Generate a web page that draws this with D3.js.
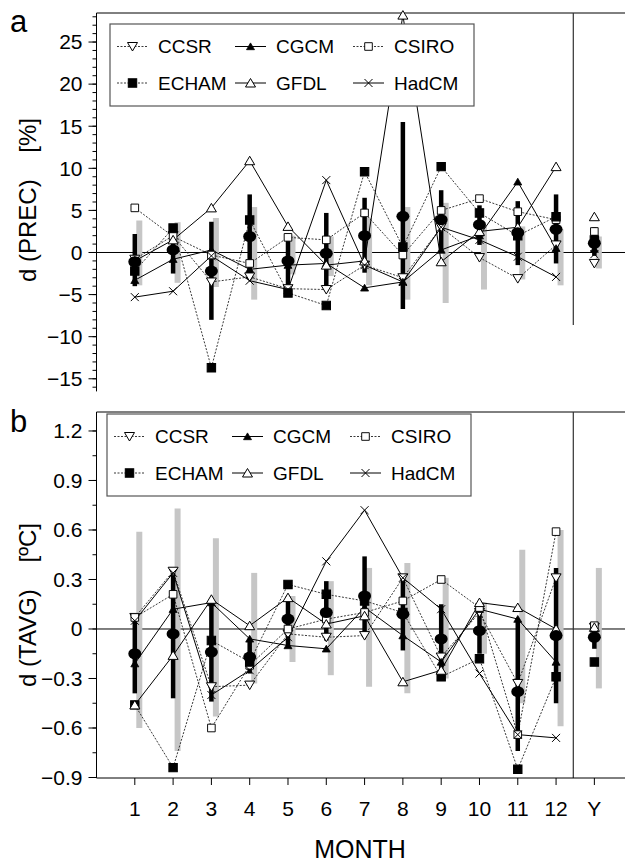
<!DOCTYPE html>
<html>
<head>
<meta charset="utf-8">
<script src="https://d3js.org/d3.v7.min.js"></script>
<style>
  body { margin: 0; background: #fff; }
  svg { display: block; font-family: "Liberation Sans", Arial, sans-serif; }
</style>
</head>
<body>
<div id="chart"></div>
<script>
// month positions (13 = annual "Y")
const months = [1, 2, 3, 4, 5, 6, 7, 8, 9, 10, 11, 12, 13];
const monthLabels = ["1", "2", "3", "4", "5", "6", "7", "8", "9", "10", "11", "12", "Y"];
const modelNames = ["CCSR", "CGCM", "CSIRO", "ECHAM", "GFDL", "HadCM"];

// panel a: precipitation change [%]
const precCCSR  = [-0.8, 2.0, -3.5, -2.9, -4.3, -4.4, -1.5, -3.0, 3.0, -0.6, -3.1, 0.9, -1.3];
const precCGCM  = [-3.3, -0.8, 0.3, -2.0, -1.5, -1.3, -4.2, -3.5, 0.3, 2.0, 8.4, 0.5, 0.4];
const precCSIRO = [5.3, 1.9, -0.3, -1.3, 1.8, 1.5, 4.7, -0.3, 5.0, 6.4, 4.85, 3.9, 2.5];
const precECHAM = [-2.2, 2.9, -13.7, 3.86, -4.8, -6.3, 9.6, 0.65, 10.2, 4.7, 2.0, 4.25, 1.5];
const precGFDL  = [-1.0, 1.5, 5.3, 10.9, 3.1, -1.5, -1.0, 28.2, -1.1, 2.5, 3.0, 10.2, 4.25];
const precHadCM = [-5.3, -4.6, -0.4, -3.35, -4.4, 8.6, -1.5, -3.5, 3.0, 1.5, -0.5, -2.9, -0.2];
const precMean  = [-1.1, 0.3, -2.2, 1.9, -1.0, -0.1, 2.0, 4.3, 3.9, 3.3, 2.35, 2.75, 1.1];
const precModelLo = [-4.0, -2.5, -8.0, -3.0, -4.5, -4.6, -2.4, -6.7, 0.3, 0.9, -1.5, -1.3, -0.4];
const precModelHi = [2.2, 3.1, 3.65, 6.9, 1.9, 4.7, 6.5, 15.5, 7.4, 5.6, 6.1, 6.9, 3.0];
const precNatLo = [-3.9, -3.6, -4.1, -5.6, -2.6, -2.8, -3.9, -5.6, -6.0, -4.4, -3.2, -3.9, -1.9];
const precNatHi = [3.8, 3.6, 4.1, 5.4, 2.0, 1.9, 4.1, 5.4, 5.9, 3.1, 3.1, 2.75, 1.9];

// panel b: temperature change [ºC]
const tavgCCSR  = [0.07, 0.35, -0.35, -0.34, -0.03, -0.05, -0.04, 0.31, -0.17, 0.1, -0.33, 0.31, 0.01];
const tavgCGCM  = [-0.21, 0.12, 0.16, -0.06, -0.1, -0.12, 0.13, -0.04, -0.2, 0.12, 0.06, -0.2, 0.0];
const tavgCSIRO = [0.07, 0.21, -0.6, -0.22, 0.0, 0.06, 0.1, 0.17, 0.3, 0.13, -0.64, 0.59, 0.02];
const tavgECHAM = [-0.46, -0.84, -0.07, -0.2, 0.27, 0.21, 0.17, 0.1, -0.29, -0.18, -0.85, -0.29, -0.2];
const tavgGFDL  = [-0.46, -0.16, 0.18, 0.02, 0.19, 0.03, 0.08, -0.32, -0.25, 0.16, 0.13, 0.0, 0.01];
const tavgHadCM = [0.05, 0.34, -0.4, -0.25, -0.05, 0.41, 0.72, 0.31, 0.12, -0.27, -0.64, -0.66, -0.03];
const tavgMean  = [-0.15, -0.03, -0.14, -0.17, 0.06, 0.1, 0.2, 0.09, -0.06, -0.01, -0.38, -0.04, -0.05];
const tavgModelLo = [-0.39, -0.42, -0.44, -0.27, -0.1, -0.07, -0.05, -0.13, -0.28, -0.15, -0.74, -0.45, -0.12];
const tavgModelHi = [0.07, 0.34, 0.17, -0.06, 0.2, 0.29, 0.44, 0.31, 0.15, 0.17, 0.06, 0.37, 0.0];
const tavgNatLo = [-0.6, -0.74, -0.53, -0.33, -0.2, -0.28, -0.35, -0.39, -0.3, -0.15, -0.45, -0.59, -0.36];
const tavgNatHi = [0.59, 0.73, 0.55, 0.34, 0.2, 0.29, 0.37, 0.4, 0.31, 0.16, 0.48, 0.6, 0.37];

const W = 625, H = 862;
const left = 96.5, right = 625;

const svg = d3.select("#chart").append("svg")
    .attr("width", W)
    .attr("height", H);

const x = d3.scaleLinear().domain([0, 13.8]).range([left, right]);

// marker shapes
function markerPath(type) {
    if (type === "down") return "M0,4.5L5,-4L-5,-4Z";
    if (type === "up" || type === "upFill") return "M0,-4.5L5,4L-5,4Z";
    if (type === "square" || type === "squareFill") return "M-4,-4H4V4H-4Z";
    if (type === "cross") return "M-4,-4L4,4M-4,4L4,-4";
}
const styles = {
    CCSR:  { marker: "down", dash: "2,1.5", fill: "#fff" },
    CGCM:  { marker: "upFill", dash: null, fill: "#000" },
    CSIRO: { marker: "square", dash: "2,1.5", fill: "#fff" },
    ECHAM: { marker: "squareFill", dash: "2,1.5", fill: "#000" },
    GFDL:  { marker: "up", dash: null, fill: "#fff" },
    HadCM: { marker: "cross", dash: null, fill: "none" }
};

function drawMarker(g, name, cx, cy) {
    const s = styles[name];
    let size = 1;
    if (s.marker === "upFill") size = 0.8;
    if (s.marker === "squareFill") size = 1.05;
    if (s.marker === "square") size = 0.95;
    g.append("path")
        .attr("d", markerPath(s.marker))
        .attr("transform", "translate(" + cx + "," + cy + ") scale(" + size + ")")
        .attr("fill", s.fill)
        .attr("stroke", "#000")
        .attr("stroke-width", 1);
}

function drawPanel(cfg) {
    const y = d3.scaleLinear().domain(cfg.domain).range(cfg.range);
    const g = svg.append("g");
    const top = cfg.range[1];

    // frame: top line and left axis
    g.append("line").attr("x1", left).attr("x2", right).attr("y1", top).attr("y2", top)
        .attr("stroke", "#000").attr("stroke-width", 1);
    g.append("line").attr("x1", left).attr("x2", left).attr("y1", top).attr("y2", cfg.range[0])
        .attr("stroke", "#000").attr("stroke-width", 1);

    // minor + major ticks
    g.selectAll(".minor").data(cfg.minorTicks).enter().append("line")
        .attr("x1", left - 4).attr("x2", left)
        .attr("y1", d => y(d)).attr("y2", d => y(d))
        .attr("stroke", "#000").attr("stroke-width", 1);
    g.selectAll(".major").data(cfg.majorTicks).enter().append("line")
        .attr("x1", left - 8).attr("x2", left)
        .attr("y1", d => y(d)).attr("y2", d => y(d))
        .attr("stroke", "#000").attr("stroke-width", 1);
    g.selectAll(".tlabel").data(cfg.majorTicks).enter().append("text")
        .attr("x", left - 14)
        .attr("y", d => y(d))
        .attr("dy", "0.35em")
        .attr("text-anchor", "end")
        .style("font-size", "21px")
        .text(cfg.tickFormat);

    // zero line and year separator
    g.append("line").attr("x1", left).attr("x2", right).attr("y1", y(0)).attr("y2", y(0))
        .attr("stroke", "#000").attr("stroke-width", 1);
    g.append("line").attr("x1", x(12.45)).attr("x2", x(12.45))
        .attr("y1", top).attr("y2", y(cfg.sepEnd))
        .attr("stroke", "#333").attr("stroke-width", 1.2);

    // grey bars (natural variability)
    g.selectAll(".nat").data(months).enter().append("line")
        .attr("x1", d => x(d) + 4.5).attr("x2", d => x(d) + 4.5)
        .attr("y1", (d, i) => y(cfg.natLo[i])).attr("y2", (d, i) => y(cfg.natHi[i]))
        .attr("stroke", "#c6c6c6").attr("stroke-width", 6);

    // model lines (months 1-12 only)
    const line = d3.line().x(d => x(d[0])).y(d => y(d[1]));
    modelNames.forEach(name => {
        const vals = cfg.series[name];
        const pts = months.slice(0, 12).map((m, i) => [m, vals[i]]);
        g.append("path")
            .attr("d", line(pts))
            .attr("fill", "none")
            .attr("stroke", styles[name].dash ? "#222" : "#000")
            .attr("stroke-width", styles[name].dash ? 0.9 : 1)
            .attr("stroke-dasharray", styles[name].dash);
    });

    // black bars (model spread)
    g.selectAll(".spread").data(months).enter().append("line")
        .attr("x1", d => x(d)).attr("x2", d => x(d))
        .attr("y1", (d, i) => y(cfg.modelLo[i])).attr("y2", (d, i) => y(cfg.modelHi[i]))
        .attr("stroke", "#000").attr("stroke-width", 4.5);

    // markers
    modelNames.forEach(name => {
        const vals = cfg.series[name];
        months.forEach((m, i) => drawMarker(g, name, x(m), y(vals[i])));
    });

    // ensemble mean
    g.selectAll(".mean").data(months).enter().append("ellipse")
        .attr("cx", d => x(d))
        .attr("cy", (d, i) => y(cfg.mean[i]))
        .attr("rx", 6.5).attr("ry", 5.5)
        .attr("fill", "#000");

    // panel letter
    svg.append("text").attr("x", 10).attr("y", cfg.letterY)
        .style("font-size", "31px").text(cfg.letter);

    // y title
    svg.append("text")
        .attr("transform", "translate(" + 36 + "," + cfg.titleY + ") rotate(-90)")
        .attr("text-anchor", "middle")
        .attr("xml:space", "preserve")
        .style("white-space", "pre")
        .style("font-size", "24px")
        .text(cfg.title);

    // legend
    const lg = svg.append("g");
    lg.append("rect")
        .attr("x", cfg.legend.x).attr("y", cfg.legend.y)
        .attr("width", cfg.legend.w).attr("height", cfg.legend.h)
        .attr("fill", "#fff").attr("stroke", "#555").attr("stroke-width", 1.2);
    modelNames.forEach((name, i) => {
        const col = i % 3, row = Math.floor(i / 3);
        const lx = cfg.legend.x + 7 + col * 118;
        const ly = cfg.legend.y + 22.5 + row * 36.5;
        const s = styles[name];
        lg.append("line").attr("x1", lx).attr("x2", lx + 31).attr("y1", ly).attr("y2", ly)
            .attr("stroke", s.dash ? "#222" : "#000")
            .attr("stroke-width", s.dash ? 0.9 : 1)
            .attr("stroke-dasharray", s.dash);
        drawMarker(lg, name, lx + 15.5, ly);
        lg.append("text").attr("x", lx + 41).attr("y", ly).attr("dy", "0.36em")
            .style("font-size", "19px").text(name);
    });

    return y;
}

drawPanel({
    domain: [-16.5, 28.45], range: [391.4, 13],
    majorTicks: d3.range(-15, 26, 5),
    minorTicks: d3.range(-16, 29, 1),
    tickFormat: d => d3.format("d")(d),
    sepEnd: -8.6,
    series: { CCSR: precCCSR, CGCM: precCGCM, CSIRO: precCSIRO, ECHAM: precECHAM, GFDL: precGFDL, HadCM: precHadCM },
    mean: precMean, modelLo: precModelLo, modelHi: precModelHi, natLo: precNatLo, natHi: precNatHi,
    letter: "a", letterY: 32,
    title: "d (PREC)    [%]", titleY: 200,
    legend: { x: 110, y: 24, w: 364, h: 82 }
});

const yb = drawPanel({
    domain: [-0.903, 1.315], range: [778, 412],
    majorTicks: [-0.9, -0.6, -0.3, 0, 0.3, 0.6, 0.9, 1.2],
    minorTicks: d3.range(-0.9, 1.31, 0.15),
    tickFormat: d => d === 0 ? "0" : d3.format(".1f")(d),
    sepEnd: -0.903,
    series: { CCSR: tavgCCSR, CGCM: tavgCGCM, CSIRO: tavgCSIRO, ECHAM: tavgECHAM, GFDL: tavgGFDL, HadCM: tavgHadCM },
    mean: tavgMean, modelLo: tavgModelLo, modelHi: tavgModelHi, natLo: tavgNatLo, natHi: tavgNatHi,
    letter: "b", letterY: 432,
    title: "d (TAVG)    [ºC]", titleY: 605,
    legend: { x: 107, y: 414, w: 364, h: 82 }
});

// bottom x axis for panel b
svg.append("line").attr("x1", left).attr("x2", right).attr("y1", 778).attr("y2", 778)
    .attr("stroke", "#000").attr("stroke-width", 1);
svg.selectAll(".xtick").data(months).enter().append("line")
    .attr("x1", d => x(d)).attr("x2", d => x(d))
    .attr("y1", 778).attr("y2", 785)
    .attr("stroke", "#000").attr("stroke-width", 1);
svg.selectAll(".xlabel").data(months).enter().append("text")
    .attr("x", d => x(d)).attr("y", 816)
    .attr("text-anchor", "middle")
    .style("font-size", "21px")
    .text((d, i) => monthLabels[i]);
svg.append("text").attr("x", 360).attr("y", 858)
    .attr("text-anchor", "middle")
    .style("font-size", "25px")
    .text("MONTH");
</script>
</body>
</html>
